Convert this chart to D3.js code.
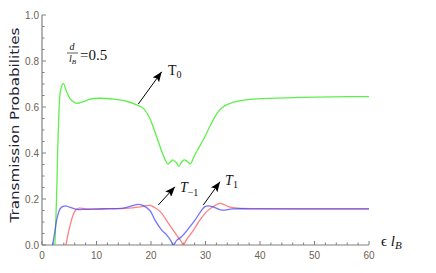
<!DOCTYPE html>
<meta charset="utf-8">
<script src="https://cdn.jsdelivr.net/npm/d3@7/dist/d3.min.js"></script>
<head>
  <title>Transmission Probabilities</title>
  <style>
    body { margin: 0; background: #fff; }
    .tick-label { font-family: "Liberation Sans", Arial, sans-serif; font-size: 10px; fill: #6e6250; }
    .ann { font-family: "Liberation Serif", "Times New Roman", serif; fill: #111; }
  </style>
</head>
<body>
<div id="chart"></div>
<script>
// data: [epsilon*l_B, probability]
var t0 = [[2.35,0],[2.5,0.08],[2.69,0.22],[3.0,0.5],[3.42,0.674],[3.9,0.703],[4.5,0.667],[5.1,0.638],
  [5.75,0.623],[6.4,0.616],[7.6,0.623],[8.8,0.634],[10.6,0.638],[13.1,0.634],[15.5,0.625],[17.4,0.609],
  [18.6,0.594],[19.8,0.55],[20.6,0.5],[21.3,0.452],[22.0,0.405],[22.6,0.37],[23.1,0.352],[23.6,0.362],[24.0,0.37],
  [24.6,0.36],[25.1,0.342],[25.6,0.36],[26.1,0.37],[26.7,0.362],[27.2,0.353],[28.0,0.39],[29.0,0.432],
  [30.0,0.476],[31.0,0.525],[32.0,0.568],[33.0,0.597],[34.5,0.616],[38.2,0.633],[45,0.64],[56.5,0.645],[60,0.645]];

var tm1 = [[1.96,0],[2.3,0.05],[2.8,0.12],[3.4,0.16],[4.2,0.17],[5.0,0.165],[6.4,0.155],[8,0.155],
  [10,0.157],[12,0.158],[14.9,0.16],[16.5,0.17],[17.7,0.177],[18.5,0.172],[19.8,0.15],[20.7,0.109],
  [21.96,0.065],[22.9,0.043],[23.6,0.02],[24.1,0],[24.7,0.02],[25.6,0.036],[26.9,0.072],[28.1,0.109],
  [29.3,0.152],[29.9,0.167],[30.5,0.17],[31.5,0.165],[33,0.152],[35,0.157],[40,0.157],[50,0.157],[60,0.157]];

var t1 = [[4.4,0],[4.8,0.05],[5.2,0.09],[5.7,0.13],[6.2,0.152],[6.8,0.16],[8,0.157],[10,0.155],
  [12,0.157],[14,0.158],[16,0.16],[18,0.166],[19.8,0.172],[20.7,0.162],[21.7,0.145],[23.2,0.094],
  [24.7,0.043],[25.6,0.014],[25.9,0],[26.5,0.022],[27.8,0.065],[29.0,0.109],[30.2,0.145],[31.1,0.162],
  [32.7,0.181],[34.2,0.167],[36,0.16],[40,0.158],[50,0.157],[60,0.157]];

var xMajor = [0, 10, 20, 30, 40, 50, 60];
var yMajor = [0, 0.2, 0.4, 0.6, 0.8, 1.0];

// arrows: [tailX, tailY, tipX, tipY] in data units
var arrows = [[17.67,0.613,21.96,0.753],[21.34,0.174,24.4,0.253],[29.6,0.174,32.66,0.275]];

var width = 436, height = 273;
var x = d3.scaleLinear().domain([0, 60]).range([42, 369]);
var y = d3.scaleLinear().domain([0, 1]).range([245, 15]);

var svg = d3.select("#chart").append("svg")
  .attr("width", width).attr("height", height);

svg.append("defs").append("clipPath").attr("id", "plotclip")
  .append("rect").attr("x", x(0)).attr("y", y(1)).attr("width", x(60) - x(0)).attr("height", y(0) - y(1));

svg.select("defs").append("marker")
  .attr("id", "head").attr("viewBox", "0 0 10 8")
  .attr("refX", 10).attr("refY", 4)
  .attr("markerWidth", 11).attr("markerHeight", 8)
  .attr("markerUnits", "userSpaceOnUse")
  .attr("orient", "auto")
  .append("path").attr("d", "M0,0 L10,4 L0,8 L2,4 Z").attr("fill", "#000");

// axes (Mathematica-like, ticks pointing inward)
var axisColor = "#808080";
var ax = svg.append("g");
ax.append("line").attr("x1", x(0)).attr("x2", x(0)).attr("y1", y(0)).attr("y2", y(1))
  .attr("stroke", axisColor).attr("stroke-width", 1.2);
ax.append("line").attr("x1", x(0)).attr("x2", x(60)).attr("y1", y(0)).attr("y2", y(0))
  .attr("stroke", axisColor).attr("stroke-width", 1.2);

var yMinor = d3.range(0, 1.0001, 0.05);
ax.selectAll(".ytick").data(yMinor).enter().append("line")
  .attr("x1", x(0)).attr("x2", function(d) { return x(0) + (Math.abs(d * 5 - Math.round(d * 5)) < 1e-6 ? 4 : 2.5); })
  .attr("y1", function(d) { return y(d); }).attr("y2", function(d) { return y(d); })
  .attr("stroke", axisColor).attr("stroke-width", 1);

var xMinor = d3.range(0, 60.001, 2);
ax.selectAll(".xtick").data(xMinor).enter().append("line")
  .attr("x1", function(d) { return x(d); }).attr("x2", function(d) { return x(d); })
  .attr("y1", y(0)).attr("y2", function(d) { return y(0) - (d % 10 === 0 ? 4 : 2.5); })
  .attr("stroke", axisColor).attr("stroke-width", 1);

ax.selectAll(".ylab").data(yMajor).enter().append("text")
  .attr("class", "tick-label")
  .attr("x", x(0) - 3).attr("y", function(d) { return y(d) + 3.5; })
  .attr("text-anchor", "end")
  .text(function(d) { return d3.format(".1f")(d); });

ax.selectAll(".xlab").data(xMajor).enter().append("text")
  .attr("class", "tick-label")
  .attr("x", function(d) { return x(d); }).attr("y", y(0) + 14)
  .attr("text-anchor", "middle")
  .text(function(d) { return d; });

// axis titles
svg.append("text")
  .attr("transform", "translate(19," + 125 + ") rotate(-90)")
  .attr("text-anchor", "middle")
  .attr("textLength", 195).attr("lengthAdjust", "spacingAndGlyphs")
  .style("font-family", "'DejaVu Sans', sans-serif").style("font-size", "13px").style("fill", "#1c2233")
  .text("Transmission  Probabilities");

var xt = svg.append("text").attr("class", "ann").attr("x", 381).attr("y", 246).style("font-size", "15px");
xt.append("tspan").text("\u03F5 ");
xt.append("tspan").style("font-style", "italic").text("l");
xt.append("tspan").attr("dy", 3).style("font-size", "11px").style("font-style", "italic").text("B");

// curves
var line = d3.line()
  .x(function(d) { return x(d[0]); })
  .y(function(d) { return y(d[1]); })
  .curve(d3.curveCatmullRom.alpha(0.5));

var plot = svg.append("g").attr("clip-path", "url(#plotclip)");
plot.append("path").datum(t0).attr("d", line)
  .attr("fill", "none").attr("stroke", "#5ef04a").attr("stroke-width", 1.3);
plot.append("path").datum(t1).attr("d", line)
  .attr("fill", "none").attr("stroke", "#ff5555").attr("stroke-opacity", 0.75).attr("stroke-width", 1.3);
plot.append("path").datum(tm1).attr("d", line)
  .attr("fill", "none").attr("stroke", "#4444ff").attr("stroke-opacity", 0.75).attr("stroke-width", 1.3);

// annotations
svg.selectAll(".arrow").data(arrows).enter().append("line")
  .attr("x1", function(d) { return x(d[0]); }).attr("y1", function(d) { return y(d[1]); })
  .attr("x2", function(d) { return x(d[2]); }).attr("y2", function(d) { return y(d[3]); })
  .attr("stroke", "#000").attr("stroke-width", 1)
  .attr("marker-end", "url(#head)");

var a0 = svg.append("text").attr("class", "ann").attr("x", x(23.1)).attr("y", y(0.739)).style("font-size", "14px");
a0.append("tspan").text("T");
a0.append("tspan").attr("dy", 3).style("font-size", "10px").text("0");

var am = svg.append("text").attr("class", "ann").attr("x", x(25.3)).attr("y", y(0.23)).style("font-size", "14px");
am.append("tspan").style("font-style", "italic").text("T");
am.append("tspan").attr("dy", 4).style("font-size", "10px").text("\u22121");

var ap = svg.append("text").attr("class", "ann").attr("x", x(33.6)).attr("y", y(0.26)).style("font-size", "14px");
ap.append("tspan").style("font-style", "italic").text("T");
ap.append("tspan").attr("dy", 3).style("font-size", "10px").text("1");

// d / l_B = 0.5
var fr = svg.append("g").attr("class", "ann");
fr.append("text").attr("class", "ann").attr("x", 72).attr("y", 50).attr("text-anchor", "middle")
  .style("font-size", "10px").style("font-style", "italic").text("d");
fr.append("line").attr("x1", 67).attr("x2", 78).attr("y1", 53).attr("y2", 53).attr("stroke", "#333").attr("stroke-width", 0.8);
var lb = fr.append("text").attr("class", "ann").attr("x", 69).attr("y", 62).style("font-size", "10px").style("font-style", "italic");
lb.append("tspan").text("l");
lb.append("tspan").attr("dy", 2).style("font-size", "7px").text("B");
svg.append("text").attr("class", "ann").attr("x", 80).attr("y", 60).style("font-size", "15px").text("=0.5");
</script>
</body>
